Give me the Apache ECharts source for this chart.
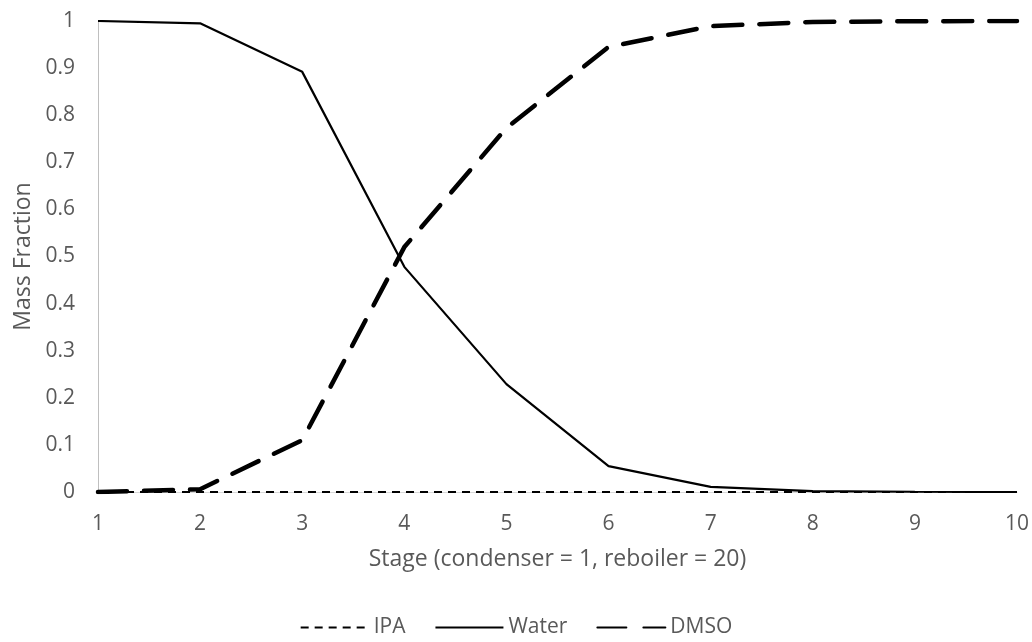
<!DOCTYPE html>
<html>
<head>
<meta charset="utf-8">
<script src="https://cdn.jsdelivr.net/npm/echarts@6/dist/echarts.min.js"></script>
<style>
  html, body { margin: 0; padding: 0; background: #fff; }
  #chart { width: 1032px; height: 642px; }
</style>
</head>
<body>
<div id="chart"></div>
<script>
// Stage numbers (condenser = 1)
const stages = ['1', '2', '3', '4', '5', '6', '7', '8', '9', '10'];
// Liquid mass fractions by stage
const ipa   = [0, 0, 0, 0, 0, 0, 0, 0, 0, 0];
const water = [1.0, 0.995, 0.892, 0.478, 0.229, 0.055, 0.011, 0.002, 0.0005, 0.0];
const dmso  = [0.0, 0.006, 0.11, 0.52, 0.773, 0.945, 0.989, 0.998, 0.9995, 1.0];

const FONT = '"Open Sans", sans-serif';
const TXT = '#595959';

const chart = echarts.init(document.getElementById('chart'), null, { renderer: 'canvas' });
chart.setOption({
  animation: false,
  backgroundColor: '#ffffff',
  textStyle: { fontFamily: FONT },
  grid: { left: 98, right: 14, top: 21, bottom: 150 },
  legend: {
    top: 612,
    left: 'center',
    itemWidth: 68,
    itemHeight: 14,
    itemGap: 29,
    itemStyle: { opacity: 0 },
    textStyle: { fontFamily: FONT, fontSize: 21, color: TXT },
    data: ['IPA', 'Water', 'DMSO']
  },
  xAxis: {
    type: 'category',
    data: stages,
    boundaryGap: false,
    name: 'Stage (condenser = 1, reboiler = 20)',
    nameLocation: 'middle',
    nameGap: 56,
    nameTextStyle: { fontFamily: FONT, fontSize: 23, color: TXT },
    axisLine: { lineStyle: { color: '#d9d9d9', width: 1 } },
    axisTick: { show: false },
    axisLabel: { fontFamily: FONT, fontSize: 21, color: TXT, margin: 22 },
    splitLine: { show: false }
  },
  yAxis: {
    type: 'value',
    min: 0,
    max: 1,
    interval: 0.1,
    name: 'Mass Fraction',
    nameLocation: 'middle',
    nameGap: 63,
    nameTextStyle: { fontFamily: FONT, fontSize: 23, color: TXT },
    axisLine: { show: true, lineStyle: { color: '#bfbfbf', width: 1 } },
    axisTick: { show: false },
    axisLabel: {
      fontFamily: FONT, fontSize: 21, color: TXT, margin: 23,
      formatter: v => String(Math.round(v * 10) / 10)
    },
    splitLine: { show: false }
  },
  series: [
    {
      name: 'IPA', type: 'line', data: ipa, symbol: 'none', z: 3,
      lineStyle: { color: '#000', width: 2, type: [8, 6] },
      itemStyle: { color: '#000' }
    },
    {
      name: 'Water', type: 'line', data: water, symbol: 'none', z: 4,
      lineStyle: { color: '#000', width: 2.2, type: 'solid' },
      itemStyle: { color: '#000' }
    },
    {
      name: 'DMSO', type: 'line', data: dmso, symbol: 'none', z: 5,
      lineStyle: { color: '#000', width: 4.5, type: [29, 17], cap: 'round' },
      itemStyle: { color: '#000' }
    }
  ]
});
</script>
</body>
</html>
